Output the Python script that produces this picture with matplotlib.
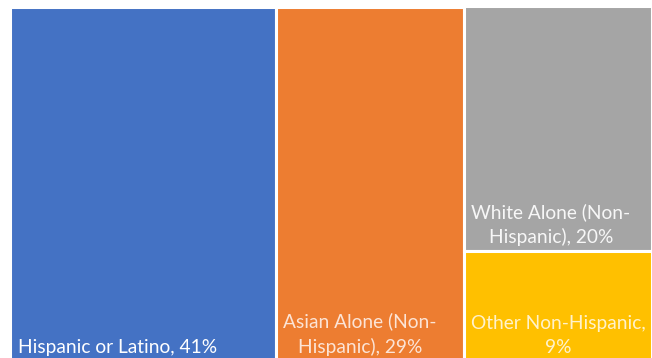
import matplotlib.pyplot as plt
from matplotlib.patches import Rectangle

# population share by group
groups = ['Hispanic or Latino', 'Asian Alone (Non-\nHispanic)',
          'White Alone (Non-\nHispanic)', 'Other Non-Hispanic,\n']
shares = [41, 29, 20, 9]
colors = ['#4472C4', '#ED7D31', '#A5A5A5', '#FFC000']
text_colors = ['#FFFFFF', '#FCE4D6', '#F7F7F7', '#FFF2CC']

plt.rcParams['font.family'] = ['Lato', 'DejaVu Sans']

fig = plt.figure(figsize=(6.52, 3.58), dpi=100)
# axes run slightly past the bottom edge of the figure
ax = fig.add_axes([10 / 652, -2.3 / 358, 641.5 / 652, 353.8 / 358])

total = sum(shares)
ax.set_xlim(0, total)
ax.set_ylim(0, 1)
ax.axis('off')

# first two groups get full-height columns, the last two share one column
boxes = []
x = 0
for v in shares[:2]:
    boxes.append((x, 0, v, 1))
    x += v
col_w = shares[2] + shares[3]
boxes.append((x, shares[3] / col_w, col_w, shares[2] / col_w))
boxes.append((x, 0, col_w, shares[3] / col_w))

for (x0, y0, w, h), name, v, c, tc in zip(boxes, groups, shares, colors, text_colors):
    ax.add_patch(Rectangle((x0, y0), w, h, facecolor=c, edgecolor='white', linewidth=2.2))
    if name.endswith('\n'):
        label = name + f'{v}%'
    elif '\n' in name:
        label = name + f', {v}%'
    else:
        label = f'{name}, {v}%'
    ax.annotate(label, (x0, y0), xytext=(5.5, 3), textcoords='offset points',
                ha='left', va='bottom', multialignment='center',
                color=tc, fontsize=13.8, linespacing=1.5)

fig.savefig('out.png', dpi=100)
